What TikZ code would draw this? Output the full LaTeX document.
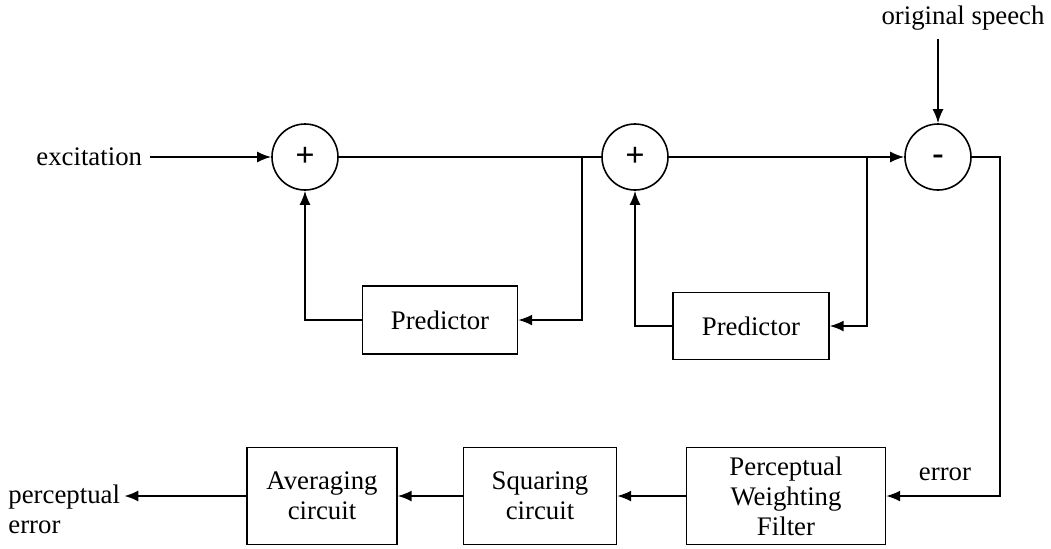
\documentclass[tikz,border=0pt]{standalone}
\usepackage{fontspec}
\setmainfont{Liberation Serif}
\usepackage{tikz}
\usetikzlibrary{positioning,arrows.meta,shapes}

\begin{document}
\begin{tikzpicture}[x=0.5pt, y=-0.5pt,
      font=\fontsize{13.4}{15}\selectfont,
      blk/.style={rectangle, draw, line width=0.7pt, align=center, inner sep=2pt},
      sumc/.style={circle, draw, line width=0.8pt, minimum size=33pt, inner sep=0pt,
        font=\fontsize{17}{17}\selectfont\bfseries},
      lbl/.style={inner sep=4pt},
      ln/.style={line width=0.9pt},
      arr/.style={-{Latex[length=7pt,width=5.5pt]}, line width=0.9pt}
    ]
      \useasboundingbox (0,0) rectangle (1051,548);
      % summing junctions
      \node[sumc] (s1) at (305,157) {+};
      \node[sumc] (s2) at (635,157) {+};
      \node[sumc] (s3) at (938,157) {\raisebox{-0.22em}[0pt][0pt]{-}};
      % blocks
      \node[blk, minimum width=77.5pt, minimum height=34pt] (pred1) at (440,320) {Predictor};
      \node[blk, minimum width=78pt, minimum height=33.5pt] (pred2) at (751,326) {Predictor};
      \node[blk, minimum width=99.5pt, minimum height=48.5pt] (pwf) at (786,496) {Perceptual\\Weighting\\Filter};
      \node[blk, minimum width=76.5pt, minimum height=48.5pt] (sq) at (540,496) {Squaring\\circuit};
      \node[blk, minimum width=75pt, minimum height=48.5pt] (avg) at (322,496) {Averaging\\circuit};
      % labels
      \node[lbl, anchor=west] (exc) at (28,157) {excitation};
      \node[lbl] (orig) at (963,18) {original speech};
      \node[lbl] (err) at (945,474) {error};
      \node[lbl, anchor=west, align=left, inner sep=2pt] (perr) at (4,509) {perceptual\\error};
      \coordinate (b1) at (582,157);
      \coordinate (b2) at (867,157);
      \coordinate (r) at (1000,157);
      % connectors
      \draw[arr] (exc.east) -- (s1);
      \draw[ln] (s1) -- (s2);
      \draw[arr] (b1) |- (pred1);
      \draw[arr] (pred1) -| (s1);
      \draw[arr] (s2) -- (s3);
      \draw[arr] (b2) |- (pred2);
      \draw[arr] (pred2) -| (s2);
      \draw[arr] (orig.south -| s3) -- (s3);
      \draw[arr] (s3) -- (r) |- (pwf);
      \draw[arr] (pwf) -- (sq);
      \draw[arr] (sq) -- (avg);
      \draw[arr] (avg) -- (avg -| perr.east);
    \end{tikzpicture}
\end{document}
